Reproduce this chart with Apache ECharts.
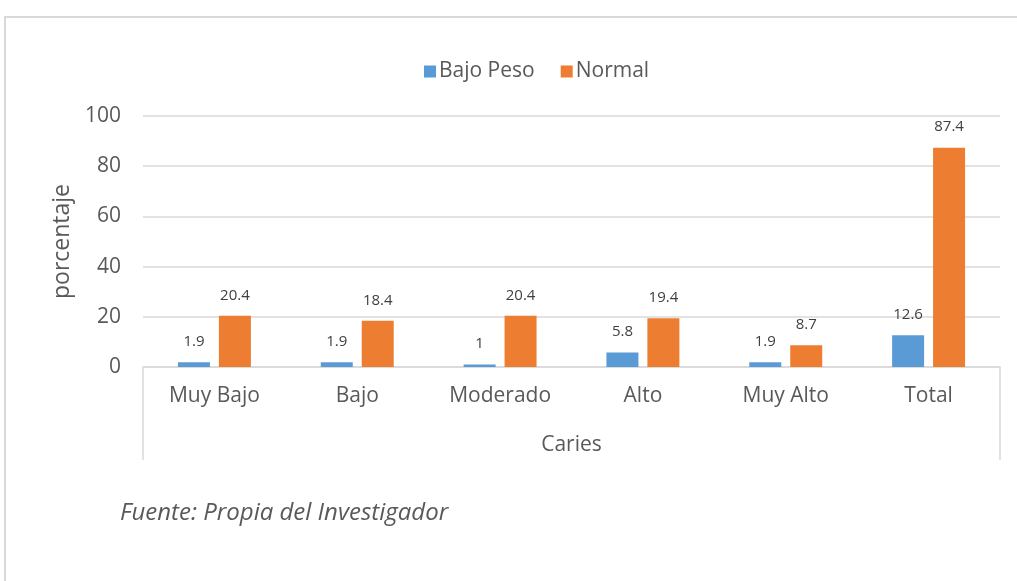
<!DOCTYPE html>
<html>
<head>
<meta charset="utf-8">
<script src="https://cdn.jsdelivr.net/npm/echarts@6/dist/echarts.min.js"></script>
<style>
  html, body { margin: 0; padding: 0; background: #fff; }
  #chart { width: 1017px; height: 581px; }
</style>
</head>
<body>
<div id="chart"></div>
<script>
// datos del grafico
var categorias = ['Muy Bajo', 'Bajo', 'Moderado', 'Alto', 'Muy Alto', 'Total'];
var bajoPeso = [1.9, 1.9, 1, 5.8, 1.9, 12.6];
var normal = [20.4, 18.4, 20.4, 19.4, 8.7, 87.4];
var yTicks = [0, 20, 40, 60, 80, 100];

var FONT = '"Open Sans", "Liberation Sans", sans-serif';
var TXT = '#595959';
var LINE = '#d9d9d9';

var chart = echarts.init(document.getElementById('chart'));

var option = {
    backgroundColor: '#fff',
    animation: false,
    textStyle: { fontFamily: FONT },
    title: {
        text: 'Fuente: Propia del Investigador',
        left: 115,
        top: 496,
        textStyle: {
            fontFamily: FONT,
            fontStyle: 'italic',
            fontWeight: 'normal',
            fontSize: 24,
            color: TXT
        }
    },
    legend: {
        top: 56,
        left: 419,
        itemWidth: 12,
        itemHeight: 12,
        itemGap: 26,
        icon: 'rect',
        textStyle: { fontSize: 21, color: TXT, fontFamily: FONT, padding: [0, 0, 0, -2] },
        data: ['Bajo Peso', 'Normal']
    },
    grid: {
        left: 143,
        right: 17,
        top: 116,
        bottom: 214,
        containLabel: false
    },
    xAxis: {
        type: 'category',
        data: categorias,
        name: 'Caries',
        nameLocation: 'middle',
        nameGap: 68,
        nameTextStyle: { fontSize: 21, color: TXT, fontFamily: FONT },
        axisLine: { lineStyle: { color: LINE, width: 1.5 } },
        axisTick: { show: false },
        axisLabel: { fontSize: 21, color: TXT, margin: 19, fontFamily: FONT }
    },
    yAxis: {
        type: 'value',
        min: yTicks[0],
        max: yTicks[yTicks.length - 1],
        interval: 20,
        name: 'porcentaje',
        nameLocation: 'middle',
        nameGap: 68,
        nameTextStyle: { fontSize: 23, color: TXT, fontFamily: FONT },
        axisLine: { show: false },
        axisTick: { show: false },
        axisLabel: { fontSize: 21, color: TXT, margin: 22, fontFamily: FONT },
        splitLine: { lineStyle: { color: LINE, width: 1.5 } }
    },
    series: [
        {
            name: 'Bajo Peso',
            type: 'bar',
            data: bajoPeso,
            barWidth: 32,
            barGap: '28%',
            itemStyle: { color: '#5b9bd5' },
            label: {
                show: true,
                position: 'top',
                distance: 13,
                fontSize: 15,
                color: '#404040',
                fontFamily: FONT
            }
        },
        {
            name: 'Normal',
            type: 'bar',
            data: normal,
            barWidth: 32,
            itemStyle: { color: '#ed7d31' },
            label: {
                show: true,
                position: 'top',
                distance: 13,
                fontSize: 15,
                color: '#404040',
                fontFamily: FONT
            }
        }
    ],
    graphic: [
        {
            type: 'rect',
            silent: true,
            shape: { x: 5, y: 17, width: 1040, height: 600 },
            style: { fill: 'none', stroke: LINE, lineWidth: 2 }
        },
        {
            type: 'line',
            silent: true,
            shape: { x1: 143, y1: 367, x2: 143, y2: 460 },
            style: { stroke: LINE, lineWidth: 1.5 }
        },
        {
            type: 'line',
            silent: true,
            shape: { x1: 1000, y1: 367, x2: 1000, y2: 460 },
            style: { stroke: LINE, lineWidth: 1.5 }
        }
    ]
};

chart.setOption(option);
</script>
</body>
</html>
